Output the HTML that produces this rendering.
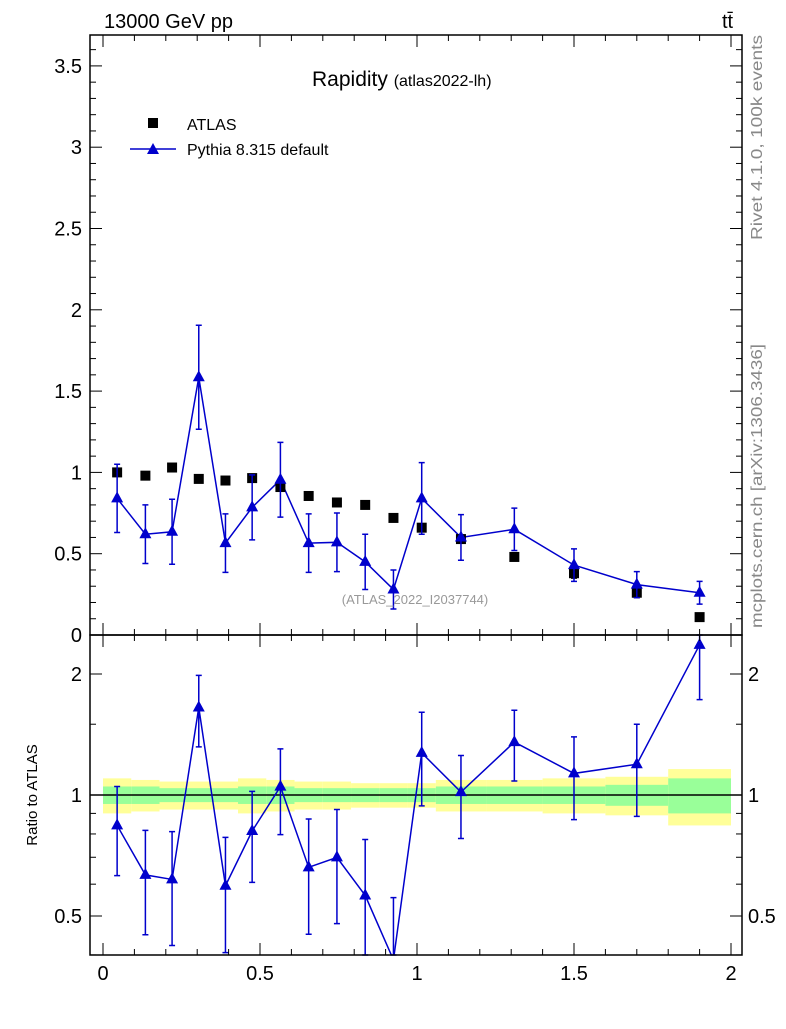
<!DOCTYPE html>
<html><head><meta charset="utf-8"><style>
body{margin:0;background:#fff;font-family:"Liberation Sans",sans-serif}
svg text{font-family:"Liberation Sans",sans-serif}
</style></head><body>
<svg id="chart" width="786" height="1024" xmlns="http://www.w3.org/2000/svg">
<rect width="786" height="1024" fill="#fff"/>
<g id="bands"></g>
<g id="marks"></g>
<g id="axes"></g>
<text x="104" y="28" font-size="20">13000 GeV pp</text>
<text x="722" y="28" font-size="20">tt̄</text>
<text x="312" y="86" font-size="21">Rapidity <tspan font-size="16">(atlas2022-lh)</tspan></text>
<rect x="148" y="118" width="10" height="10" fill="#000"/>
<text x="187" y="130" font-size="16">ATLAS</text>
<line x1="130" y1="149" x2="176" y2="149" stroke="#00c" stroke-width="1.5"/>
<polygon points="153,143 147,154 159,154" fill="#00c"/>
<text x="187" y="155" font-size="16">Pythia 8.315 default</text>
<text x="415" y="604" font-size="13" fill="#999" text-anchor="middle">(ATLAS_2022_I2037744)</text>
<text transform="translate(762,240) rotate(-90)" font-size="16" fill="#888" textLength="205" lengthAdjust="spacingAndGlyphs">Rivet 4.1.0,  100k events</text>
<text transform="translate(762,628) rotate(-90)" font-size="16" fill="#888" textLength="284" lengthAdjust="spacingAndGlyphs">mcplots.cern.ch [arXiv:1306.3436]</text>
<text transform="translate(37,795) rotate(-90)" font-size="15" text-anchor="middle">Ratio to ATLAS</text>
</svg>
<script>
const edges=[0,0.09,0.18,0.26,0.35,0.43,0.52,0.61,0.70,0.79,0.88,0.97,1.06,1.22,1.4,1.6,1.8,2.0];
const atlas=[1.0,0.98,1.03,0.96,0.95,0.965,0.91,0.855,0.815,0.80,0.72,0.66,0.59,0.48,0.38,0.26,0.11];
const atlasErr=[0.02,0.02,0.02,0.02,0.02,0.02,0.02,0.02,0.02,0.02,0.02,0.02,0.02,0.02,0.03,0.03,0.02];
const pythia=[0.84,0.62,0.635,1.585,0.565,0.785,0.955,0.565,0.57,0.45,0.28,0.84,0.60,0.65,0.43,0.31,0.26];
const pythiaErr=[0.21,0.18,0.2,0.32,0.18,0.2,0.23,0.18,0.18,0.17,0.12,0.22,0.14,0.13,0.1,0.08,0.07];
const yellowErr=[0.10,0.09,0.08,0.08,0.08,0.10,0.09,0.08,0.08,0.07,0.07,0.07,0.09,0.09,0.10,0.11,0.16];
const greenErr=[0.05,0.05,0.04,0.04,0.04,0.05,0.05,0.04,0.04,0.04,0.04,0.04,0.05,0.05,0.05,0.06,0.10];
const mainTicks=[0,0.5,1,1.5,2,2.5,3,3.5];
const mainTickLabels=["0","0.5","1","1.5","2","2.5","3","3.5"];
const ratioTicks=[0.5,1,2];
const ratioTickLabels=["0.5","1","2"];
const xTicks=[0,0.5,1,1.5,2];
const xTickLabels=["0","0.5","1","1.5","2"];

const NS="http://www.w3.org/2000/svg";
const L=90,R=742,T=35,MB=635,RB=955;
const X=v=>103+v*314;
const Y=v=>635-v*162.6;
const RY=v=>795-Math.log2(v)*121;
function mk(tag,attrs,parent){const e=document.createElementNS(NS,tag);for(const k in attrs)e.setAttribute(k,attrs[k]);document.getElementById(parent).appendChild(e);return e;}
function clampR(y){return Math.max(MB,Math.min(RB,y));}

for(let i=0;i<atlas.length;i++){
  const x1=X(edges[i]),x2=X(edges[i+1]);
  let y1=RY(1+yellowErr[i]),y2=RY(1-yellowErr[i]);
  let e=mk('rect',{x:x1,y:y1,width:x2-x1,height:y2-y1,fill:'#ffff99'},'bands');
  
  
  y1=RY(1+greenErr[i]);y2=RY(1-greenErr[i]);
  e=mk('rect',{x:x1,y:y1,width:x2-x1,height:y2-y1,fill:'#99ff99'},'bands');
  
  
}
let one=mk('line',{x1:L,x2:R,y1:RY(1),y2:RY(1),stroke:'#000','stroke-width':1.5},'bands');



const mid=i=>(edges[i]+edges[i+1])/2;
let pts=pythia.map((v,i)=>X(mid(i))+','+Y(v)).join(' ');
let pl=mk('polyline',{points:pts,fill:'none',stroke:'#00c','stroke-width':1.5},'marks');


const cp=mk('clipPath',{id:'rclip'},'marks');
const cr=document.createElementNS(NS,'rect');
cr.setAttribute('x',L);cr.setAttribute('y',MB);cr.setAttribute('width',R-L);cr.setAttribute('height',RB-MB);
cp.appendChild(cr);
const ratio=pythia.map((v,i)=>v/atlas[i]);
pts=ratio.map((v,i)=>X(mid(i))+','+RY(v)).join(' ');
let rl=mk('polyline',{points:pts,fill:'none',stroke:'#00c','stroke-width':1.5,'clip-path':'url(#rclip)'},'marks');



function tri(x,y,name){
  const p=mk('polygon',{points:`${x},${y-7} ${x-6},${y+4} ${x+6},${y+4}`,fill:'#00c'},'marks');
  
  
}
function err(x,y1,y2,color,name){
  const g=mk('path',{d:`M${x},${y1}V${y2}M${x-3},${y1}H${x+3}M${x-3},${y2}H${x+3}`,stroke:color,'stroke-width':1.5,fill:'none'},'marks');
  
  
}
for(let i=0;i<atlas.length;i++){
  const x=X(mid(i));
  err(x,Y(atlas[i]+atlasErr[i]),Y(atlas[i]-atlasErr[i]),'#000','atlas-errorbar');
  const s=mk('rect',{x:x-5,y:Y(atlas[i])-5,width:10,height:10,fill:'#000'},'marks');
  
  
  err(x,Y(pythia[i]+pythiaErr[i]),Y(pythia[i]-pythiaErr[i]),'#00c','pythia-errorbar');
  tri(x,Y(pythia[i]),'pythia-point');
  const rErr=pythiaErr[i]/atlas[i];
  const r1=clampR(RY(ratio[i]+rErr)),r2=clampR(RY(Math.max(ratio[i]-rErr,0.01)));
  err(x,r1,r2,'#00c','ratio-errorbar');
  if(RY(ratio[i])<=RB) tri(x,RY(ratio[i]),'ratio-point');
}
let f=mk('rect',{x:L,y:T,width:R-L,height:MB-T,fill:'none',stroke:'#000','stroke-width':1.5},'axes');

f=mk('rect',{x:L,y:MB,width:R-L,height:RB-MB,fill:'none',stroke:'#000','stroke-width':1.5},'axes');

function tick(x1,y1,x2,y2){mk('line',{x1,y1,x2,y2,stroke:'#000','stroke-width':1},'axes');}
function label(x,y,t,anchor,name){const e=mk('text',{x,y,'font-size':20,'text-anchor':anchor},'axes');e.textContent=t;}
for(let k=0;k<=36;k++){const v=k*0.1;const y=Y(v);if(y<T)break;const big=k%5==0;const l=big?12:6;tick(L,y,L+l,y);tick(R,y,R-l,y);}
mainTicks.forEach((v,i)=>label(82,Y(v)+7,mainTickLabels[i],'end','main-y-tick-label'));
[0.4,0.5,0.6,0.7,0.8,0.9,1,1.5,2].forEach(v=>{const y=RY(v);const big=ratioTicks.includes(v);const l=big?12:6;tick(L,y,L+l,y);tick(R,y,R-l,y);});
ratioTicks.forEach((v,i)=>{label(82,RY(v)+7,ratioTickLabels[i],'end','ratio-y-tick-label');label(748,RY(v)+7,ratioTickLabels[i],'start','ratio-y-tick-label-right');});
for(let k=0;k<=20;k++){const v=k*0.1;const x=X(v);const big=k%5==0;const l=big?12:6;tick(x,RB,x,RB-l);tick(x,MB,x,MB-l);tick(x,MB,x,MB+l);tick(x,T,x,T+l);}
xTicks.forEach((v,i)=>label(X(v),980,xTickLabels[i],'middle','x-tick-label'));
</script>
</body></html>
